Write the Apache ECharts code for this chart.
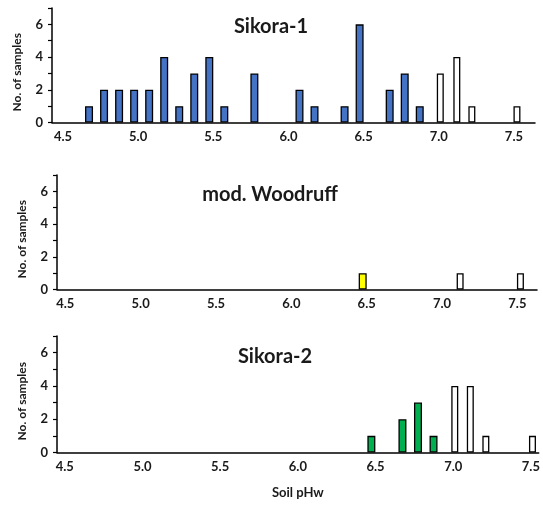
<!DOCTYPE html>
<html>
<head>
<meta charset="utf-8">
<script src="https://cdn.jsdelivr.net/npm/echarts@6/dist/echarts.min.js"></script>
<style>html,body{margin:0;padding:0;background:#fff}#main{width:543px;height:506px}</style>
</head>
<body>
<div id="main"></div>
<script>
// tick labels
var xTicks = [4.5, 5.0, 5.5, 6.0, 6.5, 7.0, 7.5];
var yTicks = [0, 2, 4, 6];
var panelTitles = ['Sikora-1', 'mod. Woodruff', 'Sikora-2'];

// [pH, count]
var sikora1Blue = [[4.67,1],[4.77,2],[4.87,2],[4.97,2],[5.07,2],[5.17,4],[5.27,1],[5.37,3],[5.47,4],[5.57,1],[5.77,3],[6.07,2],[6.17,1],[6.37,1],[6.47,6],[6.67,2],[6.77,3],[6.87,1]];
var sikora1Open = [[7.01,3],[7.12,4],[7.22,1],[7.52,1]];
var woodruffYellow = [[6.47,1]];
var woodruffOpen = [[7.12,1],[7.52,1]];
var sikora2Green = [[6.47,1],[6.67,2],[6.77,3],[6.87,1]];
var sikora2Open = [[7.01,4],[7.11,4],[7.21,1],[7.51,1]];

var FONT = 'Lato';
var txt = '#1a1a1a';

var grids = [
  {left: 52, top: 8, width: 483, height: 114.5},
  {left: 57, top: 175, width: 480, height: 114.5},
  {left: 57, top: 336, width: 484, height: 116.5}
];
var xRanges = [[4.427, 7.64], [4.445, 7.63], [4.45, 7.55]];

var xAxes = [], yAxes = [];
grids.forEach(function (g, i) {
  xAxes.push({
    type: 'value', gridIndex: i, min: xRanges[i][0], max: xRanges[i][1],
    splitLine: {show: false},
    axisLine: {lineStyle: {color: '#000', width: 1.5}},
    axisTick: {show: false},
    axisLabel: {
      customValues: xTicks, margin: 8, color: txt, fontFamily: FONT, fontWeight: 'bold', fontSize: 13,
      formatter: function (v) { return v.toFixed(1); }
    },
    name: i === 2 ? 'Soil pHw' : '',
    nameLocation: 'middle', nameGap: 34,
    nameTextStyle: {color: txt, fontFamily: FONT, fontWeight: 'bold', fontSize: 13}
  });
  yAxes.push({
    type: 'value', gridIndex: i, min: 0, max: 7, interval: 1,
    splitLine: {show: false},
    axisLine: {show: true, lineStyle: {color: '#000', width: 1.5}},
    axisTick: {show: true, length: 4, lineStyle: {color: '#000', width: 1.2}},
    axisLabel: {customValues: yTicks, margin: 9, color: txt, fontFamily: FONT, fontWeight: 'bold', fontSize: 13},
    name: 'No. of samples', nameLocation: 'middle', nameGap: 29,
    nameTextStyle: {color: txt, fontFamily: FONT, fontWeight: 'bold', fontSize: 12, padding: [0, 14, 0, 0]}
  });
});

function bars(data, idx, fill, width) {
  return {
    type: 'bar', xAxisIndex: idx, yAxisIndex: idx, data: data,
    barWidth: width, barGap: '-100%',
    itemStyle: {color: fill, borderColor: '#000', borderWidth: 1.3},
    emphasis: {disabled: true}
  };
}

var chart = echarts.init(document.getElementById('main'));
chart.setOption({
  animation: false,
  backgroundColor: '#fff',
  title: [
    {text: panelTitles[0], left: 266, top: 12},
    {text: panelTitles[1], left: 265, top: 180},
    {text: panelTitles[2], left: 270, top: 342}
  ].map(function (t) {
    t.textAlign = 'center';
    t.textStyle = {fontFamily: FONT, fontWeight: 'bold', fontSize: 20, color: txt};
    return t;
  }),
  grid: grids,
  xAxis: xAxes,
  yAxis: yAxes,
  series: [
    bars(sikora1Blue, 0, '#4472C4', 8),
    bars(sikora1Open, 0, '#fff', 7),
    bars(woodruffYellow, 1, '#FFFF00', 8),
    bars(woodruffOpen, 1, '#fff', 7),
    bars(sikora2Green, 2, '#00B050', 8),
    bars(sikora2Open, 2, '#fff', 7)
  ]
});
</script>
</body>
</html>
